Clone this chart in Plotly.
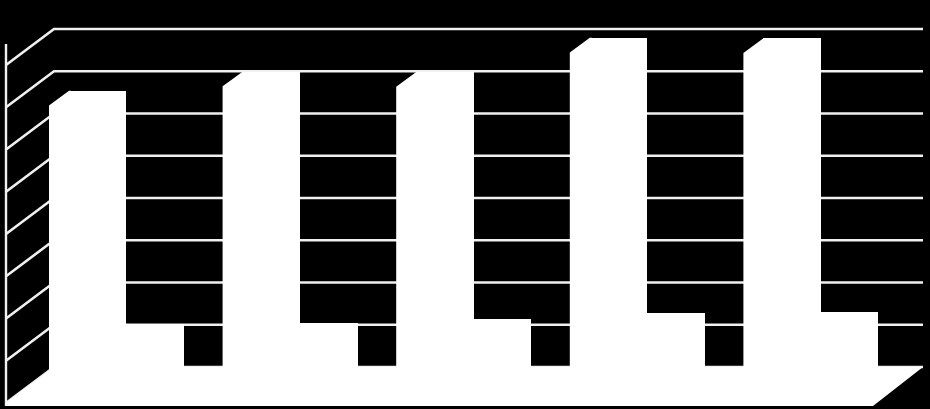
import plotly.graph_objects as go

W, H = 930, 409
categories = [0, 1, 2, 3, 4]
tall_values = [6.54, 6.99, 6.98, 7.79, 7.78]
small_values = [1.02, 1.05, 1.14, 1.27, 1.31]
grid_levels = [0, 1, 2, 3, 4, 5, 6, 7, 8]

# Scale: pixels per data unit, and where the back wall's origin sits
PX_X, PX_Y = 173.6, 42.25
ORIGIN_X, ORIGIN_Y = 54, 367
x_range = [-ORIGIN_X / PX_X, (W - ORIGIN_X) / PX_X]
y_range = [(ORIGIN_Y - H) / PX_Y, ORIGIN_Y / PX_Y]

WALL_END = 869 / PX_X
DEPTH_X, DEPTH_Y = 48 / PX_X, 36 / PX_Y
TALL_LEFT, TALL_FLAT, TALL_RIGHT, SMALL_RIGHT = -0.0288, 0.0864, 0.4165, 0.749
OVERLAP = 0.012
SIDE_DY = 14.7 / PX_Y
FLOOR_LOW = (ORIGIN_Y - 406) / PX_Y
FLOOR_RIGHT = WALL_END - 50 / PX_X
AXIS_TOP = (ORIGIN_Y - 44) / PX_Y
GRID = "#f0f0f0"

fig = go.Figure()

# Back wall gridlines and side wall diagonals
gx, gy = [], []
for k in grid_levels:
    gx += [-DEPTH_X, 0, WALL_END, None]
    gy += [k - DEPTH_Y, k, k, None]
fig.add_trace(go.Scatter(x=gx, y=gy, mode="lines", line=dict(color=GRID, width=2.6), hoverinfo="skip"))
fig.add_trace(go.Scatter(x=[-DEPTH_X, -DEPTH_X], y=[FLOOR_LOW, AXIS_TOP], mode="lines",
                         line=dict(color=GRID, width=2.4), hoverinfo="skip"))

# Bars, on an overlaid pair of axes so they cover the grid
fig.add_trace(go.Bar(x=categories, y=small_values, offset=TALL_RIGHT - OVERLAP,
                     width=SMALL_RIGHT - TALL_RIGHT + OVERLAP,
                     marker=dict(color="#ffffff", line=dict(width=0)), xaxis="x2", yaxis="y2"))
fig.add_trace(go.Bar(x=categories, y=tall_values, offset=TALL_FLAT,
                     width=TALL_RIGHT - TALL_FLAT,
                     marker=dict(color="#ffffff", line=dict(width=0)), xaxis="x2", yaxis="y2"))

# Bar side faces, derived from the values
sx, sy = [], []
for c, v in zip(categories, tall_values):
    right = c + TALL_FLAT + OVERLAP
    sx += [c + TALL_LEFT, c + TALL_FLAT, right, right, c + TALL_LEFT, None]
    sy += [v - SIDE_DY, v, v, 0, -SIDE_DY, None]
fig.add_trace(go.Scatter(x=sx, y=sy, mode="lines", fill="toself", fillcolor="#ffffff",
                         line=dict(width=0), hoverinfo="skip", xaxis="x2", yaxis="y2"))

# Floor
fig.add_trace(go.Scatter(x=[-DEPTH_X, 0, WALL_END, FLOOR_RIGHT, -DEPTH_X],
                         y=[-DEPTH_Y, 0, 0, FLOOR_LOW, FLOOR_LOW],
                         mode="lines", fill="toself", fillcolor="#ffffff",
                         line=dict(width=0), hoverinfo="skip", xaxis="x2", yaxis="y2"))

hidden = dict(visible=False, showgrid=False, zeroline=False, fixedrange=True)
fig.update_layout(
    width=W, height=H, autosize=False,
    margin=dict(l=0, r=0, t=0, b=0),
    paper_bgcolor="#000000", plot_bgcolor="#000000",
    showlegend=False, barmode="overlay", bargap=0,
    xaxis=dict(range=x_range, **hidden),
    yaxis=dict(range=y_range, **hidden),
    xaxis2=dict(range=x_range, overlaying="x", **hidden),
    yaxis2=dict(range=y_range, overlaying="y", **hidden),
)
fig.write_html("out.html", config=dict(displayModeBar=False),
               post_script="document.body.style.margin='0';document.body.style.background='#000';document.documentElement.style.overflow='hidden';")
